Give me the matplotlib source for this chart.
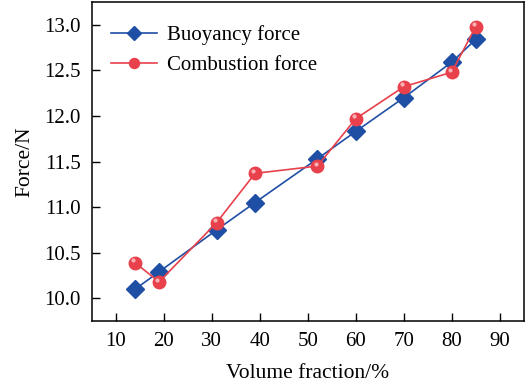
import matplotlib
matplotlib.use("Agg")
import matplotlib.pyplot as plt
import numpy as np

# volume fraction (%) and measured forces (N)
volume = [14, 19, 31, 39, 52, 60, 70, 80, 85]
buoyancy = [10.10, 10.29, 10.75, 11.05, 11.53, 11.83, 12.20, 12.59, 12.84]
combustion = [10.39, 10.18, 10.83, 11.37, 11.45, 11.97, 12.32, 12.48, 12.98]

plt.rcParams['font.family'] = ['Liberation Serif', 'DejaVu Serif']
plt.rcParams['font.size'] = 15

blue = '#1f4fa5'
red = '#e8414b'

fig = plt.figure(figsize=(5.28, 3.85), dpi=100)
ax = fig.add_axes([0.174, 0.166, 0.818, 0.829])

ax.plot(volume, buoyancy, color=blue, lw=1.2, marker='D', ms=9,
        mec=blue, mfc=blue, label='Buoyancy force')
ax.plot(volume, combustion, color=red, lw=1.2, marker='o', ms=9,
        mec=red, mfc=red, label='Combustion force')
# small highlight on the round markers
ax.plot(np.array(volume) - 0.4, np.array(combustion) + 0.025, ls='none',
        marker='o', ms=3, mfc='#f8b0b4', mec='none')

ax.set_xlim(5, 95)
ax.set_ylim(9.75, 13.25)
ax.set_xticks(range(10, 100, 10))
ax.set_yticks(np.arange(10.0, 13.01, 0.5))
ax.yaxis.set_major_formatter(matplotlib.ticker.FormatStrFormatter('%.1f'))
ax.tick_params(direction='in', length=5.5, width=1, labelsize=15, pad=8)
for s in ax.spines.values():
    s.set_linewidth(1.1)

ax.set_xlabel('Volume fraction/%', fontsize=15.5, labelpad=9)
ax.set_ylabel('Force/N', fontsize=15.5, labelpad=7)

leg = ax.legend(loc='upper left', bbox_to_anchor=(0.009, 0.975), frameon=False,
                fontsize=15, handlelength=2.2, handletextpad=0.45,
                markerscale=0.8, borderaxespad=0.35, labelspacing=0.5)

fig.savefig('out.png', dpi=100)
